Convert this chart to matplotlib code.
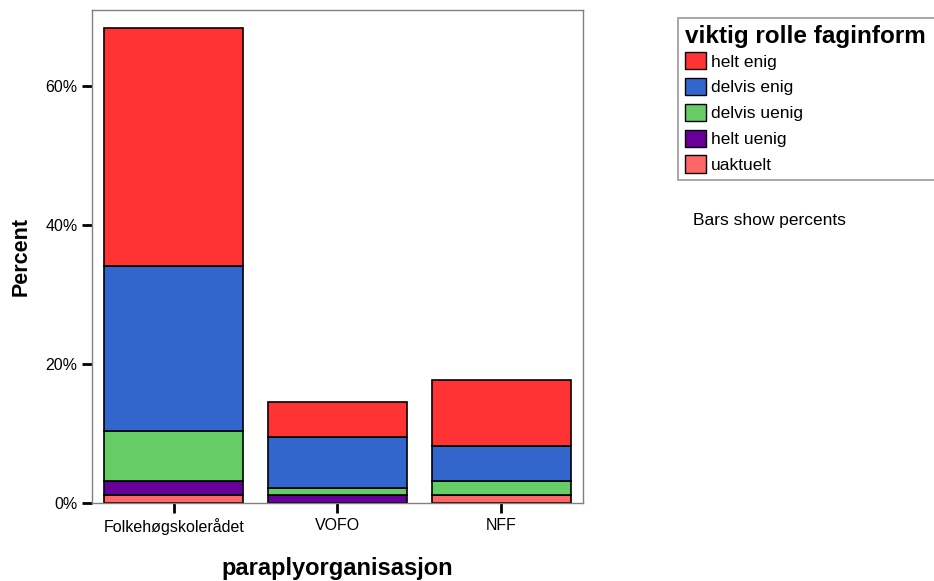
import matplotlib.pyplot as plt
import numpy as np
from matplotlib.patches import Patch

plt.rcParams['font.family'] = ['Liberation Sans', 'DejaVu Sans']

# categories and stacked percent values (bottom to top)
categories = ['Folkehøgskolerådet', 'VOFO', 'NFF']
uaktuelt = [1.15, 0.0, 1.15]
helt_uenig = [2.0, 1.15, 0.0]
delvis_uenig = [7.25, 1.0, 1.97]
delvis_enig = [23.65, 7.3, 5.14]
helt_enig = [34.2, 5.14, 9.5]

series = [
    ('uaktuelt', uaktuelt, '#ff6666'),
    ('helt uenig', helt_uenig, '#660099'),
    ('delvis uenig', delvis_uenig, '#66cc66'),
    ('delvis enig', delvis_enig, '#3366cc'),
    ('helt enig', helt_enig, '#ff3333'),
]

fig = plt.figure(figsize=(9.34, 5.81), dpi=100)
ax = fig.add_axes([92 / 934, 1 - 503 / 581, 491 / 934, 493 / 581])

x = np.arange(len(categories))
bottom = np.zeros(len(categories))
for name, vals, col in series:
    vals = np.array(vals)
    ax.bar(x, vals, 0.85, bottom=bottom, color=col, edgecolor='black', linewidth=1.2)
    bottom += vals

ax.set_xlim(-0.5, 2.5)
ax.set_ylim(0, 70.9)
ax.set_yticks([0, 20, 40, 60])
ax.set_yticklabels(['0%', '20%', '40%', '60%'])
ax.set_xticks(x)
ax.set_xticklabels(categories)
ax.tick_params(axis='both', direction='out', length=7, width=2, color='black', labelsize=11.5)
for s in ax.spines.values():
    s.set_color('#808080')
    s.set_linewidth(1)

ax.set_ylabel('Percent', fontsize=15.5, fontweight='bold', labelpad=10)
ax.set_xlabel('paraplyorganisasjon', fontsize=17, fontweight='bold', labelpad=16)

handles = [Patch(facecolor=col, edgecolor='black', label=name) for name, vals, col in reversed(series)]
leg = fig.legend(handles=handles, title='viktig rolle faginform', loc='upper left',
                 bbox_to_anchor=(678 / 934, 1 - 200 / 581, 270 / 934, 182 / 581), mode='expand',
                 fontsize=12.5,
                 title_fontproperties={'weight': 'bold', 'size': 17.5},
                 frameon=True, fancybox=False, edgecolor='#808080',
                 handlelength=1.2, handleheight=1.15, handletextpad=0.3,
                 labelspacing=0.48, borderpad=0.4, borderaxespad=0)
leg._legend_box.align = 'left'
leg._legend_box.sep = 3
leg.get_frame().set_linewidth(1.2)

fig.text(693 / 934, 1 - 220 / 581, 'Bars show percents', fontsize=12.5, va='center')

fig.savefig('out.png', dpi=100)
